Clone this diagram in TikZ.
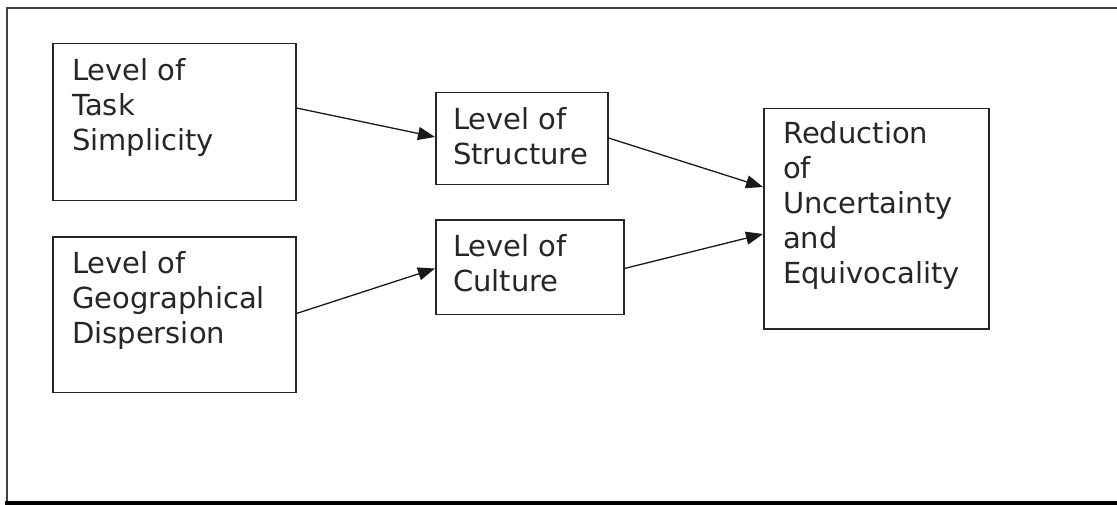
\documentclass[tikz,border=0pt]{standalone}
\usepackage{fontspec}
\setmainfont{DejaVu Sans}
\usetikzlibrary{arrows.meta,positioning}

\tikzset{
  blk/.style={draw=black!85, line width=1.5pt, inner sep=0pt, anchor=north west},
  txt/.style={anchor=north west, inner sep=0pt, align=left, xshift=20pt, yshift=-15pt,
    text=black!85, font=\fontsize{29}{35}\selectfont},
  arr/.style={-{Triangle[length=17pt,width=13pt]}, line width=1.3pt, draw=black!90}
}

\begin{document}
\begin{tikzpicture}[x=1pt,y=-1pt]
    \useasboundingbox (0,0) rectangle (1117,505);
    \clip (0,0) rectangle (1117,505);
    % frame
    \draw[line width=2pt, black!75] (1130,8) -- (7,8) -- (7,502) -- (1130,502);
    \draw[line width=4pt] (5,503) -- (1130,503);

    \node[blk, minimum width=243pt, minimum height=157pt,
      label={[txt]north west:Level of\\Task\\Simplicity}] (task) at (52,43) {};
    \node[blk, minimum width=243pt, minimum height=155pt, below=35pt of task.south west, anchor=north west,
      label={[txt]north west:Level of\\Geographical\\Dispersion}] (geo) {};
    \node[blk, minimum width=172pt, minimum height=92pt,
      label={[txt, xshift=-2pt]north west:Level of\\Structure}] (struct) at (435,92) {};
    \node[blk, minimum width=188pt, minimum height=94pt, below=34pt of struct.south west, anchor=north west,
      label={[txt, xshift=-2pt]north west:Level of\\Culture}] (cult) {};
    \node[blk, minimum width=225pt, minimum height=220pt,
      label={[txt, yshift=2pt]north west:Reduction\\of\\Uncertainty\\and\\Equivocality}] (redu) at (763,108) {};

    \draw[arr] ([yshift=-65pt]task.north east) -- ([yshift=-45pt]struct.north west);
    \draw[arr] ([yshift=-77pt]geo.north east) -- ([yshift=-49pt]cult.north west);
    \draw[arr] ([yshift=-46pt]struct.north east) -- ([yshift=-79pt]redu.north west);
    \draw[arr] ([yshift=-49pt]cult.north east) -- ([yshift=-126pt]redu.north west);
\end{tikzpicture}
\end{document}
